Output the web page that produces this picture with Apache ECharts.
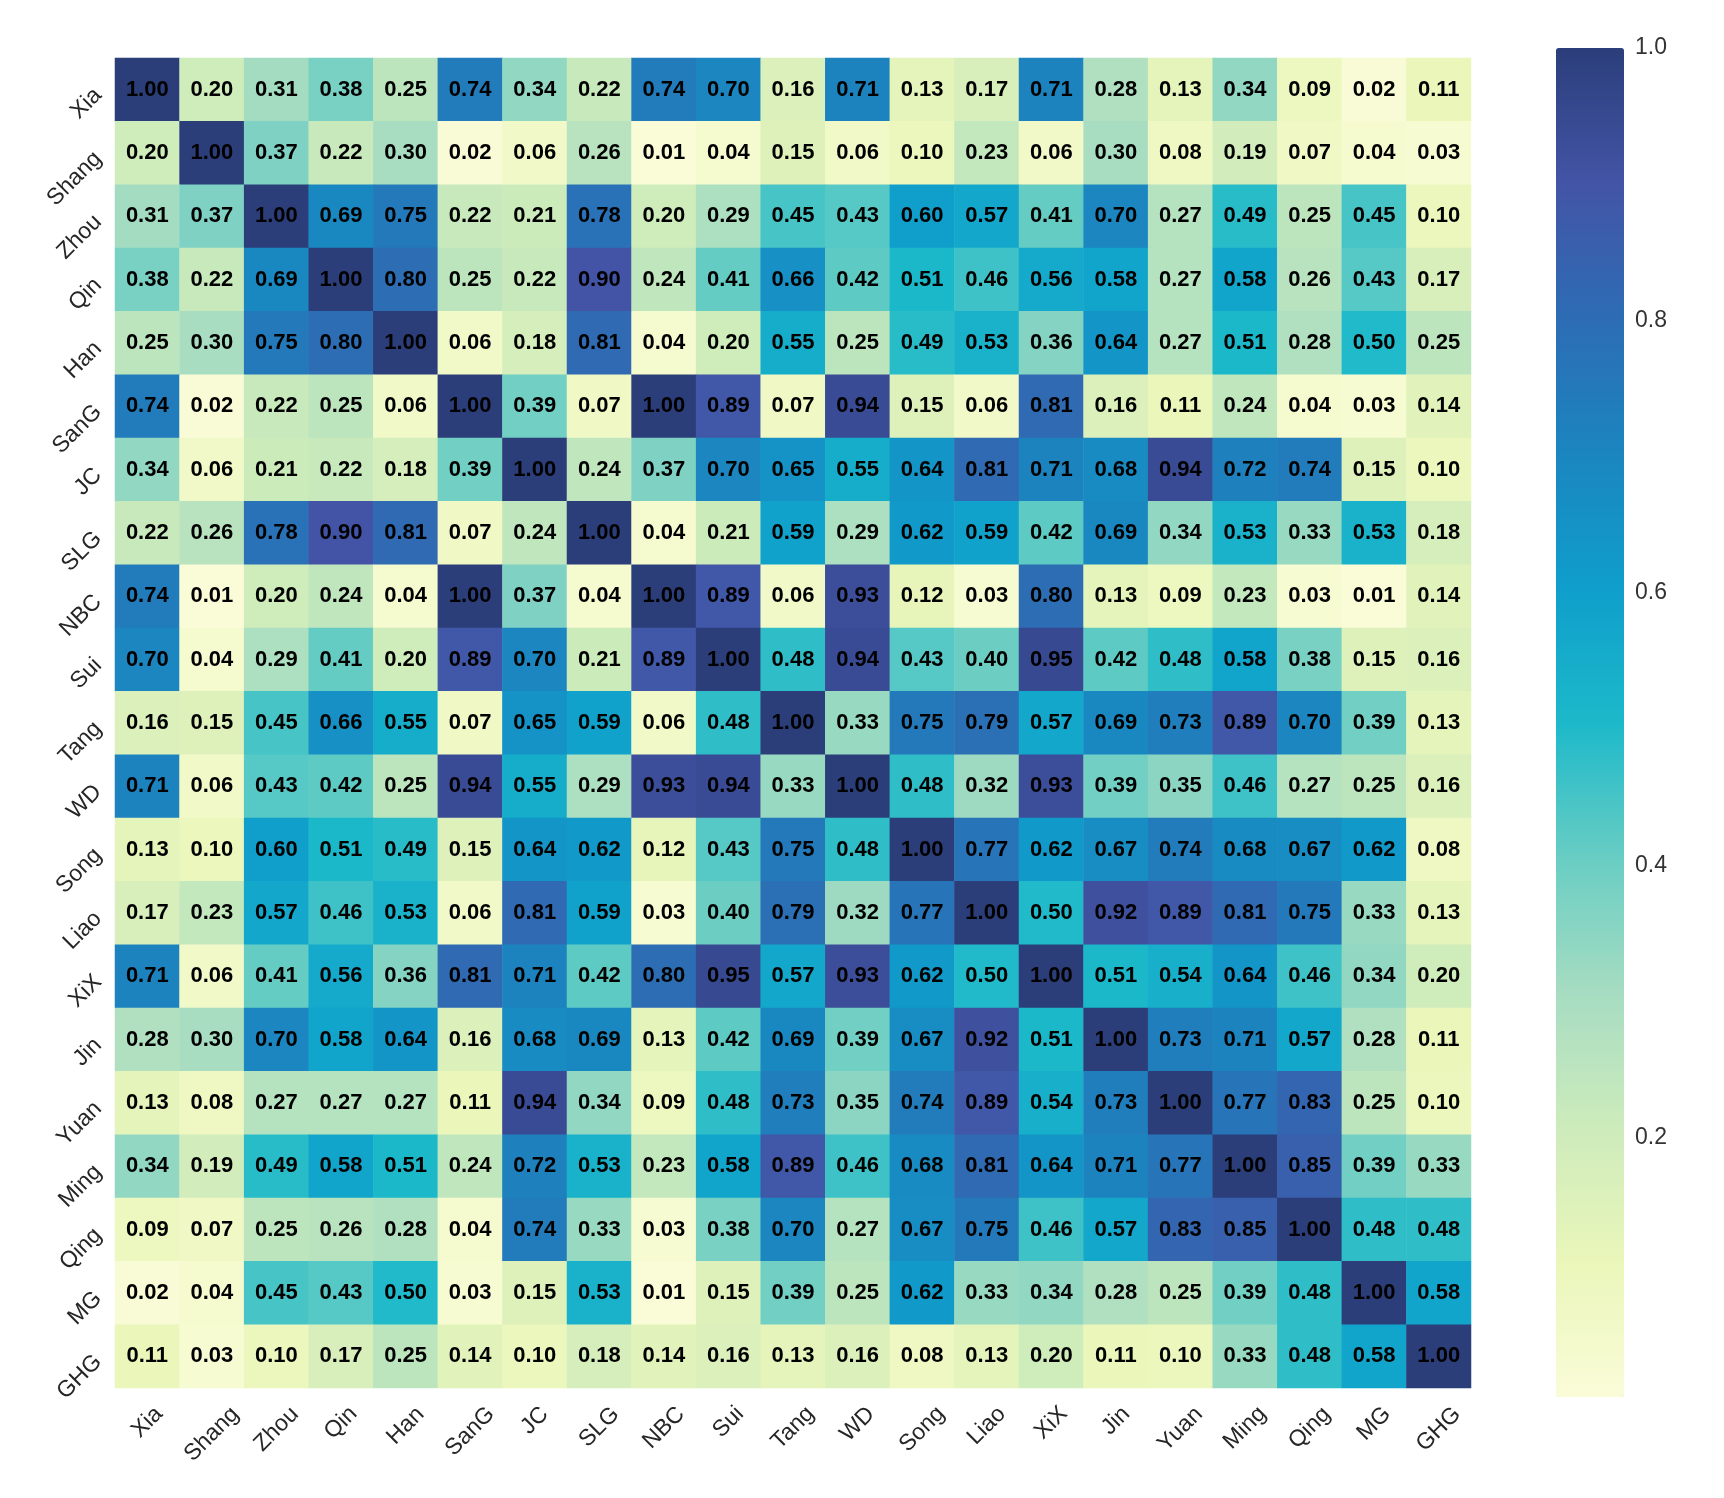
<!DOCTYPE html>
<html>
<head>
<meta charset="utf-8">
<script src="https://cdn.jsdelivr.net/npm/echarts@6/dist/echarts.min.js"></script>
<style>
  html, body { margin: 0; padding: 0; background: #fff; }
  #main { width: 1724px; height: 1498px; }
</style>
</head>
<body>
<div id="main"></div>
<script>
// 朝代相关系数矩阵
var names = ['Xia', 'Shang', 'Zhou', 'Qin', 'Han', 'SanG', 'JC', 'SLG', 'NBC', 'Sui', 'Tang',
    'WD', 'Song', 'Liao', 'XiX', 'Jin', 'Yuan', 'Ming', 'Qing', 'MG', 'GHG'];

var corr = [
    [1.00, 0.20, 0.31, 0.38, 0.25, 0.74, 0.34, 0.22, 0.74, 0.70, 0.16, 0.71, 0.13, 0.17, 0.71, 0.28, 0.13, 0.34, 0.09, 0.02, 0.11],
    [0.20, 1.00, 0.37, 0.22, 0.30, 0.02, 0.06, 0.26, 0.01, 0.04, 0.15, 0.06, 0.10, 0.23, 0.06, 0.30, 0.08, 0.19, 0.07, 0.04, 0.03],
    [0.31, 0.37, 1.00, 0.69, 0.75, 0.22, 0.21, 0.78, 0.20, 0.29, 0.45, 0.43, 0.60, 0.57, 0.41, 0.70, 0.27, 0.49, 0.25, 0.45, 0.10],
    [0.38, 0.22, 0.69, 1.00, 0.80, 0.25, 0.22, 0.90, 0.24, 0.41, 0.66, 0.42, 0.51, 0.46, 0.56, 0.58, 0.27, 0.58, 0.26, 0.43, 0.17],
    [0.25, 0.30, 0.75, 0.80, 1.00, 0.06, 0.18, 0.81, 0.04, 0.20, 0.55, 0.25, 0.49, 0.53, 0.36, 0.64, 0.27, 0.51, 0.28, 0.50, 0.25],
    [0.74, 0.02, 0.22, 0.25, 0.06, 1.00, 0.39, 0.07, 1.00, 0.89, 0.07, 0.94, 0.15, 0.06, 0.81, 0.16, 0.11, 0.24, 0.04, 0.03, 0.14],
    [0.34, 0.06, 0.21, 0.22, 0.18, 0.39, 1.00, 0.24, 0.37, 0.70, 0.65, 0.55, 0.64, 0.81, 0.71, 0.68, 0.94, 0.72, 0.74, 0.15, 0.10],
    [0.22, 0.26, 0.78, 0.90, 0.81, 0.07, 0.24, 1.00, 0.04, 0.21, 0.59, 0.29, 0.62, 0.59, 0.42, 0.69, 0.34, 0.53, 0.33, 0.53, 0.18],
    [0.74, 0.01, 0.20, 0.24, 0.04, 1.00, 0.37, 0.04, 1.00, 0.89, 0.06, 0.93, 0.12, 0.03, 0.80, 0.13, 0.09, 0.23, 0.03, 0.01, 0.14],
    [0.70, 0.04, 0.29, 0.41, 0.20, 0.89, 0.70, 0.21, 0.89, 1.00, 0.48, 0.94, 0.43, 0.40, 0.95, 0.42, 0.48, 0.58, 0.38, 0.15, 0.16],
    [0.16, 0.15, 0.45, 0.66, 0.55, 0.07, 0.65, 0.59, 0.06, 0.48, 1.00, 0.33, 0.75, 0.79, 0.57, 0.69, 0.73, 0.89, 0.70, 0.39, 0.13],
    [0.71, 0.06, 0.43, 0.42, 0.25, 0.94, 0.55, 0.29, 0.93, 0.94, 0.33, 1.00, 0.48, 0.32, 0.93, 0.39, 0.35, 0.46, 0.27, 0.25, 0.16],
    [0.13, 0.10, 0.60, 0.51, 0.49, 0.15, 0.64, 0.62, 0.12, 0.43, 0.75, 0.48, 1.00, 0.77, 0.62, 0.67, 0.74, 0.68, 0.67, 0.62, 0.08],
    [0.17, 0.23, 0.57, 0.46, 0.53, 0.06, 0.81, 0.59, 0.03, 0.40, 0.79, 0.32, 0.77, 1.00, 0.50, 0.92, 0.89, 0.81, 0.75, 0.33, 0.13],
    [0.71, 0.06, 0.41, 0.56, 0.36, 0.81, 0.71, 0.42, 0.80, 0.95, 0.57, 0.93, 0.62, 0.50, 1.00, 0.51, 0.54, 0.64, 0.46, 0.34, 0.20],
    [0.28, 0.30, 0.70, 0.58, 0.64, 0.16, 0.68, 0.69, 0.13, 0.42, 0.69, 0.39, 0.67, 0.92, 0.51, 1.00, 0.73, 0.71, 0.57, 0.28, 0.11],
    [0.13, 0.08, 0.27, 0.27, 0.27, 0.11, 0.94, 0.34, 0.09, 0.48, 0.73, 0.35, 0.74, 0.89, 0.54, 0.73, 1.00, 0.77, 0.83, 0.25, 0.10],
    [0.34, 0.19, 0.49, 0.58, 0.51, 0.24, 0.72, 0.53, 0.23, 0.58, 0.89, 0.46, 0.68, 0.81, 0.64, 0.71, 0.77, 1.00, 0.85, 0.39, 0.33],
    [0.09, 0.07, 0.25, 0.26, 0.28, 0.04, 0.74, 0.33, 0.03, 0.38, 0.70, 0.27, 0.67, 0.75, 0.46, 0.57, 0.83, 0.85, 1.00, 0.48, 0.48],
    [0.02, 0.04, 0.45, 0.43, 0.50, 0.03, 0.15, 0.53, 0.01, 0.15, 0.39, 0.25, 0.62, 0.33, 0.34, 0.28, 0.25, 0.39, 0.48, 1.00, 0.58],
    [0.11, 0.03, 0.10, 0.17, 0.25, 0.14, 0.10, 0.18, 0.14, 0.16, 0.13, 0.16, 0.08, 0.13, 0.20, 0.11, 0.10, 0.33, 0.48, 0.58, 1.00]
];

// 色条刻度
var barTicks = [0.2, 0.4, 0.6, 0.8, 1.0];

// YlGnBu 近似色带
var colors = ['#fafcd8', '#eaf6ba', '#cdebbb', '#a6dcc2', '#68cdc3', '#1cb9ca',
    '#0f9ecb', '#1b85c0', '#2d6cb4', '#4354a6', '#2b3e7a'];

var heatData = [];
corr.forEach(function (row, y) {
    row.forEach(function (v, x) {
        heatData.push([x, y, v]);
    });
});

var font = '"Liberation Sans", Arial, sans-serif';
var labelSize = 23;
var labelLH = 27;

// x 轴标签：旋转后包围盒居中于刻度，顶端对齐（类似 matplotlib ha=center）
var ctx = document.createElement('canvas').getContext('2d');
ctx.font = labelSize + 'px ' + font;
var xRich = {};
names.forEach(function (n, i) {
    var p = Math.round((ctx.measureText(n).width + labelLH) / 2);
    xRich['l' + i] = {
        fontSize: labelSize,
        fontFamily: font,
        color: '#262626',
        lineHeight: labelLH,
        padding: [p, p, 0, 0]
    };
});

var myChart = echarts.init(document.getElementById('main'));

myChart.setOption({
    backgroundColor: '#ffffff',
    animation: false,
    grid: [
        {left: 115, top: 58, width: 1356, height: 1330},
        {left: 1556, top: 48, width: 68, height: 1349}
    ],
    xAxis: [
        {
            type: 'category',
            data: names,
            gridIndex: 0,
            axisLine: {show: false},
            axisTick: {show: false},
            splitLine: {show: false},
            axisLabel: {
                interval: 0,
                rotate: 45,
                align: 'center',
                verticalAlign: 'middle',
                margin: 13,
                fontSize: labelSize,
                color: '#262626',
                fontFamily: font,
                formatter: function (v, i) { return '{l' + i + '|' + v + '}'; },
                rich: xRich
            }
        },
        {type: 'category', data: [''], gridIndex: 1, show: false}
    ],
    yAxis: [
        {
            type: 'category',
            data: names,
            inverse: true,
            gridIndex: 0,
            axisLine: {show: false},
            axisTick: {show: false},
            splitLine: {show: false},
            axisLabel: {
                interval: 0,
                rotate: 45,
                margin: 19,
                fontSize: labelSize,
                color: '#262626',
                fontFamily: font,
                formatter: function (v) { return '{y|' + v + '}'; },
                rich: {
                    y: {
                        fontSize: labelSize,
                        fontFamily: font,
                        color: '#262626',
                        lineHeight: labelLH,
                        padding: [6, 0, 0, 0]
                    }
                }
            }
        },
        {
            type: 'value',
            gridIndex: 1,
            min: 0.01,
            max: 1.0,
            position: 'right',
            axisLine: {show: false},
            axisTick: {show: false},
            splitLine: {show: false},
            axisLabel: {
                customValues: barTicks,
                margin: 11,
                fontSize: 23,
                color: '#333333',
                fontFamily: font,
                padding: [6, 0, 0, 0],
                formatter: function (v) { return v.toFixed(1); }
            }
        }
    ],
    visualMap: {
        type: 'continuous',
        seriesIndex: 0,
        min: 0.01,
        max: 1.0,
        orient: 'vertical',
        left: 1556,
        top: 48,
        padding: 0,
        itemWidth: 68,
        itemHeight: 1349,
        calculable: false,
        hoverLink: false,
        text: null,
        showLabel: false,
        inRange: {color: colors}
    },
    series: [{
        type: 'heatmap',
        xAxisIndex: 0,
        yAxisIndex: 0,
        data: heatData,
        label: {
            show: true,
            fontSize: 22,
            fontWeight: 'bold',
            color: '#000000',
            fontFamily: font,
            formatter: function (p) { return p.value[2].toFixed(2); }
        },
        itemStyle: {borderWidth: 0},
        emphasis: {disabled: true}
    }]
});
</script>
</body>
</html>
